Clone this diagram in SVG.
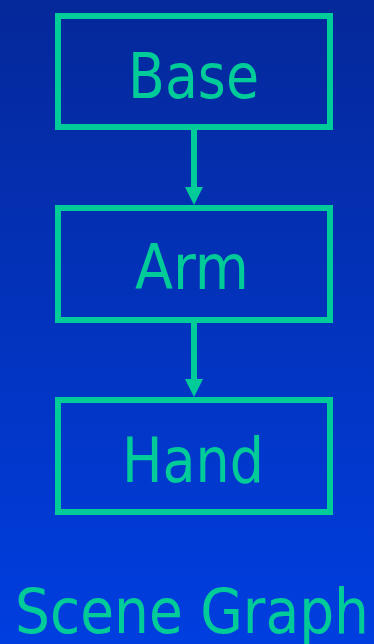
<svg xmlns="http://www.w3.org/2000/svg" width="374" height="644" viewBox="0 0 374 644">
  <defs>
    <linearGradient id="bg" x1="0" y1="0" x2="0" y2="1">
      <stop offset="0" stop-color="#05289a"/>
      <stop offset="1" stop-color="#003ee0"/>
    </linearGradient>
    <style>
      .box { fill: none; stroke: #00cc99; stroke-width: 6; }
      .lbl { fill: #00cc99; font-family: "DejaVu Sans", Verdana, sans-serif; font-size: 63px; }
      .edge { stroke: #00cc99; stroke-width: 6; fill: none; }
      .head { fill: #00cc99; }
    </style>
  </defs>
  <rect x="0" y="0" width="374" height="644" fill="url(#bg)"/>
  <g id="connectors">
    <line class="edge" x1="194" y1="130" x2="194" y2="188"/>
    <path class="head" d="M185,187 L203,187 L194,205 Z"/>
    <line class="edge" x1="194" y1="323" x2="194" y2="380"/>
    <path class="head" d="M185,379 L203,379 L194,397 Z"/>
  </g>
  <g id="base">
    <rect class="box" x="58" y="16" width="272" height="111"/>
    <text class="lbl" x="128" y="98" textLength="131" lengthAdjust="spacingAndGlyphs">Base</text>
  </g>
  <g id="arm">
    <rect class="box" x="58" y="208" width="272" height="112"/>
    <text class="lbl" x="135" y="289" textLength="114" lengthAdjust="spacingAndGlyphs">Arm</text>
  </g>
  <g id="hand">
    <rect class="box" x="58" y="400" width="272" height="112"/>
    <text class="lbl" x="122" y="482" textLength="142" lengthAdjust="spacingAndGlyphs">Hand</text>
  </g>
  <text class="lbl" x="15" y="633" textLength="354" lengthAdjust="spacingAndGlyphs">Scene Graph</text>
</svg>
